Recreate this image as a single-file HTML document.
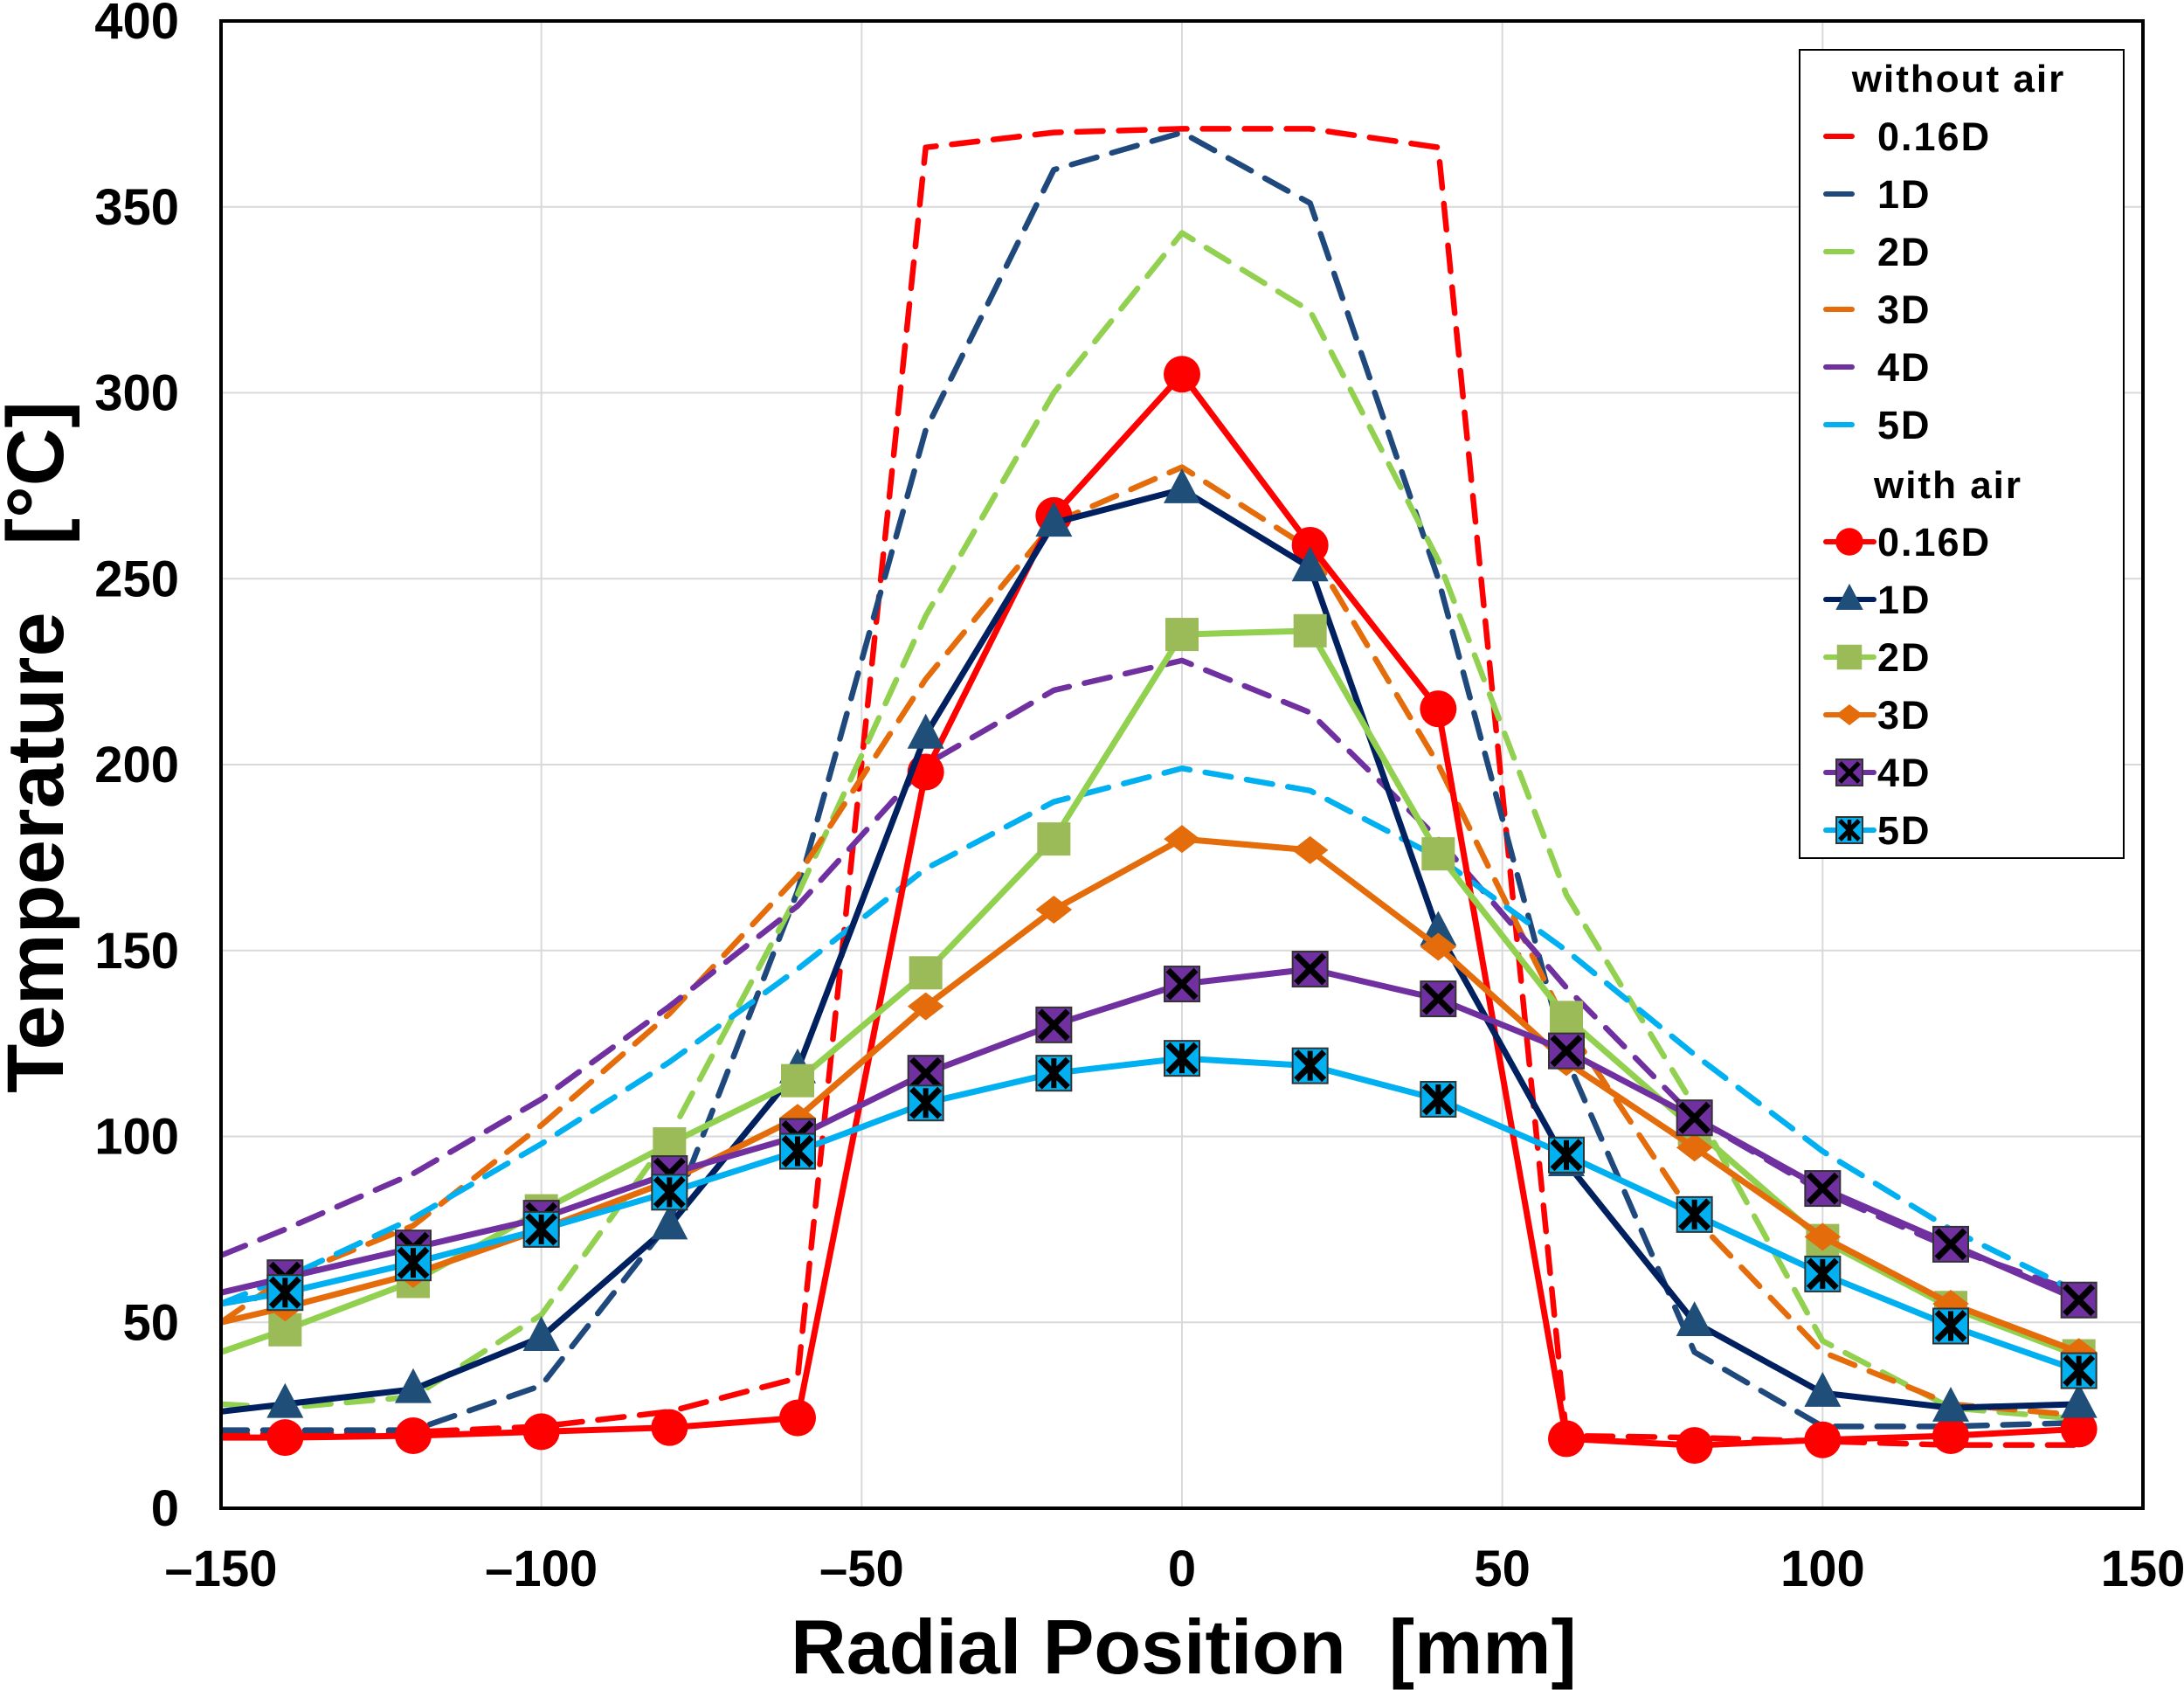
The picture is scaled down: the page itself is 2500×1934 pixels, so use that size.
<!DOCTYPE html>
<html><head><meta charset="utf-8"><style>
html,body{margin:0;padding:0;background:#fff;}
svg{display:block;font-family:"Liberation Sans",Arial,sans-serif;font-weight:bold;}
</style></head><body>
<svg id="chart" width="2500" height="1934" viewBox="0 0 2500 1934"></svg>
<script>
const xs = [-150,-140,-120,-100,-80,-60,-40,-20,0,20,40,60,80,100,120,140];
const xTicks = [-150,-100,-50,0,50,100,150];
const xTickLabels = ["\u2013150","\u2013100","\u201350","0","50","100","150"];
const yTicks = [0,50,100,150,200,250,300,350,400];
const seriesNames = ["0.16D","1D","2D","3D","4D","5D"];
// without air (dashed)
const noAir016 = [20,20,20.5,22,26,35,366,370,371,371,366,19.5,19,18,17,17];
const noAir1 = [21,21,21,33,77,166,290,360,370,351,250,121,42,22,22,23];
const noAir2 = [28,27,30,52,100,165,240,300,343,322,255,165,108,45,27,24];
const noAir3 = [50,62,76,103,133,170,223,265,280,258,200,130,78,42,28,25];
const noAir4 = [68,75,90,110,135,162,200,220,228,214,180,140,105,85,70,58];
const noAir5 = [55,62,78,98,120,145,172,190,199,193,175,150,122,96,75,58];
// with air (solid + markers)
const air016 = [19,19,19.5,20.6,21.7,24.3,198,267,305,259,215,18.7,16.9,18.4,19.5,21.3];
const air1 = [26,28,32,46,76,118,208,265,274,253,155,93,50,31,27,28];
const air2 = [42,48,61,80,98,115,144,180,235,236,176,132,102,72,54,41];
const air3 = [50,54,63,75,88,105,135,161,180,177,151,120,97,73,55,42];
const air4 = [58,62,70,78,90,100,117,130,141,145,137,123,105,86,71,56];
const air5 = [55,58,66,75,85,96,109,117,121,119,110,95,79,63,49,37];

const L=253,R=2453,T=24,B=1726;
const sx=v=>L+(v+150)/300*(R-L);
const sy=v=>B-v/400*(B-T);
const svg=document.getElementById('chart');
const NS='http://www.w3.org/2000/svg';
function mk(tag,attrs,parent){const e=document.createElementNS(NS,tag);for(const k in attrs)e.setAttribute(k,attrs[k]);(parent||svg).appendChild(e);return e;}

xTicks.forEach((t,i)=>{
  const g=mk('line',{x1:sx(t),x2:sx(t),y1:T,y2:B,stroke:'#d9d9d9','stroke-width':2});
  
  
  const tx=mk('text',{x:sx(t),y:1815,'text-anchor':'middle','font-size':58});
  tx.textContent=xTickLabels[i];
  
  
});
yTicks.forEach(t=>{
  const g=mk('line',{x1:L,x2:R,y1:sy(t),y2:sy(t),stroke:'#d9d9d9','stroke-width':2});
  
  
  const tx=mk('text',{x:205,y:sy(t)+20,'text-anchor':'end','font-size':58});
  tx.textContent=String(t);
  
  
});

const dashCols=['#ff0000','#1f497d','#92d050','#e46c0a','#7030a0','#00b0f0'];
const lineCols=['#ff0000','#002060','#92d050','#e46c0a','#7030a0','#00b0f0'];
const markCols=['#ff0000','#1f4e79','#9bbb59','#e46c0a','#7030a0','#00b0f0'];
const markers=['circle','triangle','square','diamond','boxx','boxstar'];
const noAir=[noAir016,noAir1,noAir2,noAir3,noAir4,noAir5];
const air=[air016,air1,air2,air3,air4,air5];

const clip=mk('clipPath',{id:'pc'});mk('rect',{x:L,y:T,width:R-L,height:B-T},clip);
const plot=mk('g',{'clip-path':'url(#pc)'});



function pts(arr){return arr.map((v,i)=>sx(xs[i])+','+sy(v)).join(' ');}

noAir.forEach((arr,k)=>{
  const p=mk('polyline',{points:pts(arr),fill:'none',stroke:dashCols[k],'stroke-width':6.5,'stroke-dasharray':'30 18','stroke-linecap':'round','stroke-linejoin':'round'},plot);
  
  
});

function drawMarker(type,cx,cy,k,parent,sc){
  sc=sc||1;const c=markCols[k];let e;
  if(type==='circle'){e=mk('circle',{cx:cx,cy:cy,r:21*sc,fill:c},parent);}
  else if(type==='triangle'){const s=21*sc;e=mk('polygon',{points:`${cx},${cy-s*1.15} ${cx+s},${cy+s*0.75} ${cx-s},${cy+s*0.75}`,fill:c},parent);}
  else if(type==='square'){const s=19*sc;e=mk('rect',{x:cx-s,y:cy-s,width:2*s,height:2*s,fill:c},parent);}
  else if(type==='diamond'){const s=16*sc;e=mk('polygon',{points:`${cx},${cy-s} ${cx+s*1.3},${cy} ${cx},${cy+s} ${cx-s*1.3},${cy}`,fill:c},parent);}
  else{const s=20*sc;e=mk('g',{},parent);
    mk('rect',{x:cx-s,y:cy-s,width:2*s,height:2*s,fill:c,stroke:'#333','stroke-width':2},e);
    mk('path',{d:`M${cx-s+4},${cy-s+4}L${cx+s-4},${cy+s-4}M${cx+s-4},${cy-s+4}L${cx-s+4},${cy+s-4}`,stroke:'#000','stroke-width':7*sc},e);
    if(type==='boxstar')mk('path',{d:`M${cx},${cy-s+3}L${cx},${cy+s-3}`,stroke:'#000','stroke-width':6*sc},e);
  }
  return e;
}

air.forEach((arr,k)=>{
  const g=mk('g',{},plot);
  
  
  const p=mk('polyline',{points:pts(arr),fill:'none',stroke:lineCols[k],'stroke-width':7,'stroke-linejoin':'round'},g);
  
  
  arr.forEach((v,i)=>{
    if(xs[i]===-150)return;
    const m=drawMarker(markers[k],sx(xs[i]),sy(v),k,g);
    
    
  });
});

const fr=mk('rect',{x:L,y:T,width:R-L,height:B-T,fill:'none',stroke:'#000','stroke-width':4});



const xt=mk('text',{x:1355,y:1915,'text-anchor':'middle','font-size':88});
xt.textContent='Radial Position\u00a0\u00a0[mm]';


const yt=mk('text',{x:0,y:0,'text-anchor':'middle','font-size':92,transform:'translate(72,855) rotate(-90)'});
yt.textContent='Temperature\u00a0\u00a0\u00a0[\u00b0C]';



const lg=mk('g',{});


mk('rect',{x:2060,y:57,width:371,height:925,fill:'#fff',stroke:'#000','stroke-width':2},lg);
const h1=mk('text',{x:2242,y:105,'text-anchor':'middle','font-size':44,'letter-spacing':2},lg);
h1.textContent='without air';


const h2=mk('text',{x:2230,y:570,'text-anchor':'middle','font-size':44,'letter-spacing':2},lg);
h2.textContent='with air';


seriesNames.forEach((n,k)=>{
  const y1=156+k*66;
  const e=mk('g',{},lg);
  
  
  mk('line',{x1:2090,x2:2120,y1:y1,y2:y1,stroke:dashCols[k],'stroke-width':6,'stroke-linecap':'round'},e);
  const t=mk('text',{x:2149,y:y1+16,'font-size':45,'letter-spacing':2},e);t.textContent=n;
  const y2=620+k*66;
  const e2=mk('g',{},lg);
  
  
  mk('line',{x1:2090,x2:2145,y1:y2,y2:y2,stroke:lineCols[k],'stroke-width':6,'stroke-linecap':'round'},e2);
  drawMarker(markers[k],2117,y2,k,e2,0.75);
  const t2=mk('text',{x:2149,y:y2+16,'font-size':45,'letter-spacing':2},e2);t2.textContent=n;
});
</script>
</body></html>
